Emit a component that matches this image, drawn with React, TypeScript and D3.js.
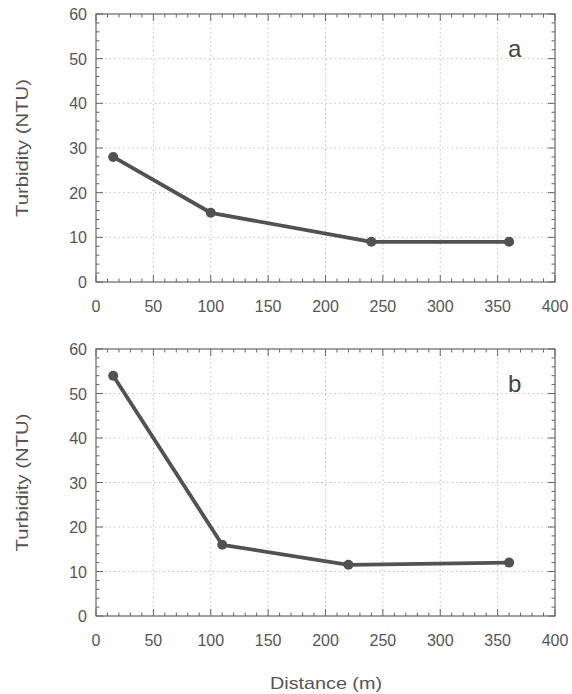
import React from "react";
import * as d3 from "d3";

const distanceA = [15, 100, 240, 360];
const turbidityA = [28, 15.5, 9, 9];
const distanceB = [15, 110, 220, 360];
const turbidityB = [54, 16, 11.5, 12];
const xTicks = [0, 50, 100, 150, 200, 250, 300, 350, 400];
const yTicks = [0, 10, 20, 30, 40, 50, 60];
const panelLabels = ["a", "b"];

const W = 572;
const H = 694;
const left = 96;
const right = 555;
const FONT = "Liberation Sans, Arial, Helvetica, sans-serif";
const TXT = "#555";
const FRAME = "#666";

function Panel({ top, bottom, xs, ys, label }: { top: number; bottom: number; xs: number[]; ys: number[]; label: string }) {
  const x = d3.scaleLinear().domain([0, 400]).range([left, right]);
  const y = d3.scaleLinear().domain([0, 60]).range([bottom, top]);
  const line = d3.line<number>().x((_, i) => x(xs[i])).y((d) => y(d));
  const minorX = d3.range(0, 401, 10);
  const minorY = d3.range(0, 61, 2);
  return (
    <g>
      {xTicks.slice(1, -1).map((t) => (
        <line key={"gx" + t} x1={x(t)} x2={x(t)} y1={top} y2={bottom} stroke="#c4c4c4" strokeWidth={1} strokeDasharray="1.5,3" />
      ))}
      {yTicks.slice(1, -1).map((t) => (
        <line key={"gy" + t} x1={left} x2={right} y1={y(t)} y2={y(t)} stroke="#c4c4c4" strokeWidth={1} strokeDasharray="1.5,3" />
      ))}
      {minorX.map((t) => {
        const len = t % 50 === 0 ? 7 : 3.5;
        return (
          <g key={"mx" + t}>
            <line x1={x(t)} x2={x(t)} y1={bottom} y2={bottom - len} stroke={FRAME} strokeWidth={1} />
            <line x1={x(t)} x2={x(t)} y1={top} y2={top + len} stroke={FRAME} strokeWidth={1} />
          </g>
        );
      })}
      {minorY.map((t) => {
        const len = t % 10 === 0 ? 7 : 3.5;
        return (
          <g key={"my" + t}>
            <line x1={left} x2={left + len} y1={y(t)} y2={y(t)} stroke={FRAME} strokeWidth={1} />
            <line x1={right} x2={right - len} y1={y(t)} y2={y(t)} stroke={FRAME} strokeWidth={1} />
          </g>
        );
      })}
      <rect x={left} y={top} width={right - left} height={bottom - top} fill="none" stroke={FRAME} strokeWidth={1.2} />
      {xTicks.map((t) => (
        <text key={"xt" + t} x={x(t)} y={bottom + 30} textAnchor="middle" fontSize={16} fill={TXT} fontFamily={FONT}>
          {t}
        </text>
      ))}
      {yTicks.map((t) => (
        <text key={"yt" + t} x={left - 9} y={y(t) + 6} textAnchor="end" fontSize={16} fill={TXT} fontFamily={FONT}>
          {t}
        </text>
      ))}
      <text
        transform={`translate(28,${(top + bottom) / 2}) rotate(-90)`}
        textAnchor="middle"
        fontSize={17}
        fill={TXT}
        fontFamily={FONT}
        textLength={138}
        lengthAdjust="spacingAndGlyphs"
      >
        Turbidity (NTU)
      </text>
      <path d={line(ys) || ""} fill="none" stroke="#525252" strokeWidth={3.8} strokeLinejoin="round" />
      {ys.map((v, i) => (
        <circle key={"p" + i} cx={x(xs[i])} cy={y(v)} r={5} fill="#525252" />
      ))}
      <text x={x(359)} y={y(50) - 2} fontSize={24} fill="#444" fontFamily={FONT}>
        {label}
      </text>
    </g>
  );
}

export default function App() {
  return (
    <svg width={W} height={H} style={{ position: "absolute", left: 0, top: 0, background: "#fff" }}>
      <rect width={W} height={H} fill="#fff" />
      <Panel top={14} bottom={282} xs={distanceA} ys={turbidityA} label={panelLabels[0]} />
      <Panel top={349} bottom={616} xs={distanceB} ys={turbidityB} label={panelLabels[1]} />
      <text x={326} y={689} textAnchor="middle" fontSize={17} fill={TXT} fontFamily={FONT} textLength={112} lengthAdjust="spacingAndGlyphs">
        Distance (m)
      </text>
    </svg>
  );
}
